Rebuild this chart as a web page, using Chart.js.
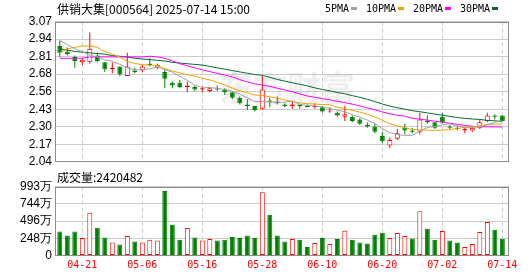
<!DOCTYPE html>
<html><head><meta charset="utf-8">
<script src="https://cdn.jsdelivr.net/npm/chart.js@4.4.1/dist/chart.umd.min.js"></script>
<style>
body{margin:0;background:#fff}
#wrap{position:relative;width:530px;height:276px;overflow:hidden;background:#fff}
canvas{position:absolute;left:0}
</style>
</head><body>
<div id="wrap">
<canvas id="pc" width="530" height="172" style="top:0"></canvas>
<canvas id="vc" width="530" height="104" style="top:172px"></canvas>
</div>
<script>
const stockTitle = '供销大集[000564] 2025-07-14 15:00';
const volumeTitle = '成交量:2420482';
const watermarkText = '东方财富';

const dates = ['04-16','04-17','04-18','04-21','04-22','04-23','04-24','04-25','04-28','04-29',
 '04-30','05-06','05-07','05-08','05-09','05-12','05-13','05-14','05-15','05-16',
 '05-19','05-20','05-21','05-22','05-23','05-26','05-27','05-28','05-29','05-30',
 '06-03','06-04','06-05','06-06','06-09','06-10','06-11','06-12','06-13','06-16',
 '06-17','06-18','06-19','06-20','06-23','06-24','06-25','06-26','06-27','06-30',
 '07-01','07-02','07-03','07-04','07-07','07-08','07-09','07-10','07-11','07-14'];

const openP  = [2.89,2.85,2.81,2.77,2.77,2.82,2.77,2.72,2.74,2.67,2.71,2.71,2.76,2.73,2.70,2.62,2.62,2.59,2.59,2.57,
 2.56,2.58,2.57,2.55,2.51,2.46,2.45,2.43,2.49,2.48,2.46,2.45,2.46,2.45,2.44,2.44,2.41,2.40,2.37,2.37,
 2.35,2.31,2.30,2.23,2.16,2.21,2.29,2.27,2.26,2.34,2.33,2.37,2.30,2.29,2.27,2.27,2.29,2.34,2.38,2.38];
const closeP = [2.84,2.83,2.78,2.79,2.87,2.78,2.72,2.73,2.68,2.74,2.70,2.74,2.75,2.75,2.65,2.60,2.59,2.60,2.57,2.58,
 2.58,2.57,2.55,2.51,2.47,2.45,2.42,2.57,2.48,2.47,2.45,2.46,2.45,2.44,2.45,2.41,2.41,2.38,2.39,2.34,
 2.32,2.30,2.26,2.19,2.20,2.25,2.27,2.26,2.35,2.33,2.29,2.33,2.29,2.28,2.28,2.29,2.33,2.38,2.37,2.34];
const highP  = [2.93,2.88,2.82,2.80,2.99,2.84,2.77,2.77,2.74,2.84,2.73,2.75,2.80,2.76,2.72,2.63,2.64,2.63,2.60,2.59,
 2.59,2.60,2.58,2.55,2.52,2.50,2.45,2.67,2.51,2.52,2.47,2.48,2.46,2.46,2.47,2.45,2.44,2.41,2.45,2.38,
 2.36,2.33,2.32,2.26,2.22,2.28,2.32,2.29,2.40,2.38,2.33,2.40,2.31,2.30,2.29,2.30,2.35,2.40,2.39,2.38];
const lowP   = [2.81,2.82,2.73,2.75,2.76,2.77,2.70,2.69,2.67,2.67,2.69,2.70,2.74,2.72,2.58,2.58,2.58,2.55,2.56,2.55,
 2.55,2.56,2.53,2.50,2.46,2.42,2.41,2.42,2.44,2.46,2.44,2.43,2.43,2.44,2.43,2.40,2.40,2.37,2.34,2.33,
 2.31,2.29,2.25,2.18,2.14,2.20,2.24,2.25,2.24,2.32,2.28,2.32,2.28,2.27,2.25,2.26,2.28,2.33,2.35,2.34];

const ma5  = [2.93,2.90,2.87,2.85,2.822,2.810,2.788,2.778,2.756,2.730,2.714,2.718,2.722,2.736,2.718,2.698,2.668,2.638,2.602,2.588,
 2.584,2.580,2.570,2.558,2.536,2.510,2.480,2.484,2.478,2.478,2.478,2.486,2.462,2.454,2.450,2.442,2.432,2.418,2.408,2.386,
 2.368,2.346,2.322,2.282,2.254,2.240,2.234,2.234,2.266,2.292,2.300,2.312,2.318,2.304,2.294,2.294,2.294,2.312,2.330,2.342];
const ma10 = [2.84,2.87,2.88,2.89,2.89,2.88,2.85,2.83,2.81,2.776,2.762,2.753,2.750,2.746,2.724,2.706,2.693,2.680,2.669,2.653,
 2.641,2.624,2.604,2.580,2.562,2.547,2.530,2.527,2.518,2.507,2.494,2.483,2.473,2.466,2.464,2.460,2.459,2.440,2.431,2.418,
 2.405,2.389,2.370,2.345,2.320,2.304,2.290,2.278,2.274,2.273,2.270,2.273,2.276,2.285,2.293,2.297,2.303,2.315,2.317,2.318];
const ma20 = [2.80,2.80,2.80,2.80,2.81,2.81,2.81,2.81,2.81,2.81,2.81,2.81,2.815,2.81,2.80,2.78,2.76,2.745,2.73,2.715,
 2.702,2.689,2.677,2.663,2.643,2.627,2.612,2.604,2.594,2.580,2.568,2.554,2.539,2.523,2.513,2.504,2.495,2.484,2.475,2.463,
 2.450,2.436,2.422,2.406,2.392,2.382,2.375,2.359,2.353,2.346,2.338,2.331,2.323,2.315,2.307,2.301,2.297,2.297,2.296,2.296];
const ma30 = [2.87,2.86,2.85,2.845,2.84,2.835,2.83,2.82,2.815,2.81,2.80,2.795,2.79,2.785,2.78,2.77,2.765,2.76,2.755,2.75,
 2.74,2.73,2.72,2.71,2.70,2.69,2.68,2.675,2.66,2.645,2.632,2.620,2.609,2.597,2.583,2.571,2.561,2.549,2.539,2.526,
 2.513,2.499,2.482,2.464,2.449,2.437,2.426,2.415,2.408,2.399,2.390,2.382,2.373,2.365,2.359,2.354,2.351,2.344,2.341,2.336];

// volume in 万
const volume = [348,287,348,253,616,401,258,186,158,282,201,186,229,215,931,444,229,397,258,215,
 239,215,229,268,254,287,254,913,587,287,201,239,229,124,181,254,167,239,358,229,
 186,172,301,330,254,325,282,244,640,387,229,353,215,186,124,167,339,483,373,242];
const volDir = [-1,-1,-1,1,1,-1,-1,1,-1,1, -1,1,1,1,-1,-1,-1,1,-1,1,
 1,-1,-1,-1,-1,-1,-1,1,-1,-1, -1,1,-1,-1,1,-1,1,-1,1,-1,
 -1,-1,-1,-1,1,1,1,-1,1,-1, -1,1,-1,-1,1,1,1,1,-1,-1];

const tickDates = ['04-21','05-06','05-16','05-28','06-10','06-20','07-02','07-14'];
const priceTicks = ['3.07','2.94','2.81','2.68','2.56','2.43','2.30','2.17','2.04'];
const volTicks = ['993万','744万','496万','248万','0'];
const maNames = ['5PMA','10PMA','20PMA','30PMA'];
const priceMin = 2.04, priceMax = 3.07, volMax = 993;

const UP = '#ff0000', DOWN = '#008000';
const maColors = ['#a0a0a0','#f5a000','#ff00ff','#006b31'];
const GRID = '#cccccc', FRAME = '#8c8c8c';

const idx = dates.map((d,i)=>i);
const tickIdx = tickDates.map(d=>dates.indexOf(d));
const isUp = i => closeP[i] >= openP[i];

function xScale(extra){
  return Object.assign({
    type:'linear', min:-0.64, max:59.89, offset:false,
    grid:{offset:false, color:GRID, drawTicks:false, lineWidth:1},
    border:{display:false, dash:[4,3]},
    afterBuildTicks: s => { s.ticks = tickIdx.map(v=>({value:v})); }
  }, extra);
}

const framePlugin = {
  id:'frame',
  afterDraw(chart){
    const a = chart.chartArea, ctx = chart.ctx;
    ctx.save();
    ctx.strokeStyle = FRAME; ctx.lineWidth = 1;
    const l = Math.round(a.left)+0.5, t = Math.round(a.top)+0.5;
    const r = Math.round(a.right)-0.5, b = Math.round(a.bottom)-0.5;
    ctx.strokeRect(l, t, r-l, b-t);
    ctx.restore();
  }
};

const priceText = {
  id:'priceText',
  beforeDatasetsDraw(chart){
    const ctx = chart.ctx;
    ctx.save();
    ctx.font = 'bold 34px "Noto Sans CJK SC"';
    ctx.fillStyle = 'rgba(150,150,150,0.16)';
    ctx.textAlign = 'center'; ctx.textBaseline = 'middle';
    ctx.fillText(watermarkText, 287, 88);
    ctx.restore();
  },
  afterDraw(chart){
    const ctx = chart.ctx;
    ctx.save();
    ctx.fillStyle = '#000';
    ctx.textBaseline = 'middle';
    ctx.font = '12px "Noto Sans CJK SC"';
    ctx.fillText(stockTitle, 57, 9);
    ctx.font = '10px "DejaVu Sans Mono"';
    let x = 325;
    maNames.forEach((n,k)=>{
      ctx.fillStyle = '#000';
      ctx.fillText(n, x, 9);
      const w = ctx.measureText(n).width;
      ctx.fillStyle = maColors[k];
      ctx.fillRect(Math.round(x+w+2), 7, 6, 3);
      x = Math.round(x+w+2+6+9);
    });
    ctx.restore();
  }
};

const volText = {
  id:'volText',
  afterDraw(chart){
    const ctx = chart.ctx;
    ctx.save();
    ctx.fillStyle = '#000';
    ctx.textBaseline = 'middle';
    ctx.font = '12px "Noto Sans CJK SC"';
    ctx.fillText(volumeTitle, 57, 5.5);
    ctx.restore();
  }
};

const common = {
  responsive:false, animation:false, devicePixelRatio:1, events:[],
  plugins:{legend:{display:false}, tooltip:{enabled:false}}
};

new Chart(document.getElementById('pc'), {
  type:'bar',
  data:{datasets:[
    {type:'bar', label:'wick', data: idx.map(i=>({x:i, y:[lowP[i], highP[i]]})),
     backgroundColor: idx.map(i=>isUp(i)?UP:DOWN), borderWidth:0, barThickness:1,
     grouped:false, order:3, inflateAmount:0},
    {type:'bar', label:'body', data: idx.map(i=>({x:i, y:[openP[i], closeP[i]]})),
     backgroundColor: idx.map(i=>isUp(i)?'#ffffff':DOWN), borderColor: idx.map(i=>isUp(i)?UP:DOWN),
     borderWidth:1, borderSkipped:false, barThickness:5, minBarLength:1,
     grouped:false, order:2, inflateAmount:0},
    ...[ma5,ma10,ma20,ma30].map((arr,k)=>({
      type:'line', label:maNames[k], data: idx.map(i=>({x:i, y:arr[i]})),
      borderColor:maColors[k], borderWidth:1, pointRadius:0, tension:0, order:1, fill:false
    }))
  ]},
  options: Object.assign({}, common, {
    layout:{padding:{top:21.5, right:21, bottom:6, left:0}},
    scales:{
      x: xScale({ticks:{display:false}, afterFit: s=>{ s.height = 0; }}),
      y: {type:'linear', min:priceMin, max:priceMax,
          grid:{color:GRID, drawTicks:false}, border:{display:false},
          ticks:{padding:3, color:'#000', autoSkip:false, font:{family:'Liberation Sans', size:12},
                 callback:(v,i)=>priceTicks[priceTicks.length-1-i]},
          afterBuildTicks: s=>{ const n = priceTicks.length-1;
            s.ticks = priceTicks.map((t,k)=>({value: priceMin + (priceMax-priceMin)*k/n})); },
          afterFit: s=>{ s.width = 55; }}
    }
  }),
  plugins:[priceText, framePlugin]
});

new Chart(document.getElementById('vc'), {
  type:'bar',
  data:{datasets:[
    {type:'bar', label:'成交量', data: idx.map(i=>({x:i, y:[0, volume[i]]})),
     backgroundColor: idx.map(i=>volDir[i]>0?'#ffffff':DOWN), borderColor: idx.map(i=>volDir[i]>0?UP:DOWN),
     borderWidth:1, borderSkipped:false, barThickness:5, grouped:false, inflateAmount:0}
  ]},
  options: Object.assign({}, common, {
    layout:{padding:{top:14.7, right:21, bottom:0, left:0}},
    scales:{
      x: xScale({ticks:{display:true, color:UP, padding:4, maxRotation:0, autoSkip:false,
                 font:{family:'DejaVu Sans Mono', size:10}, callback:v=>dates[v]},
                 afterFit: s=>{ s.height = 20.5; }}),
      y: {type:'linear', min:0, max:volMax,
          grid:{color:GRID, drawTicks:false}, border:{display:false},
          ticks:{padding:3, color:'#000', autoSkip:false, font:{family:'Liberation Sans', size:12},
                 callback:(v,i)=>volTicks[volTicks.length-1-i]},
          afterBuildTicks: s=>{ const n = volTicks.length-1;
            s.ticks = volTicks.map((t,k)=>({value: volMax*k/n})); },
          afterFit: s=>{ s.width = 55; }}
    }
  }),
  plugins:[volText, framePlugin]
});
</script>
</body></html>
